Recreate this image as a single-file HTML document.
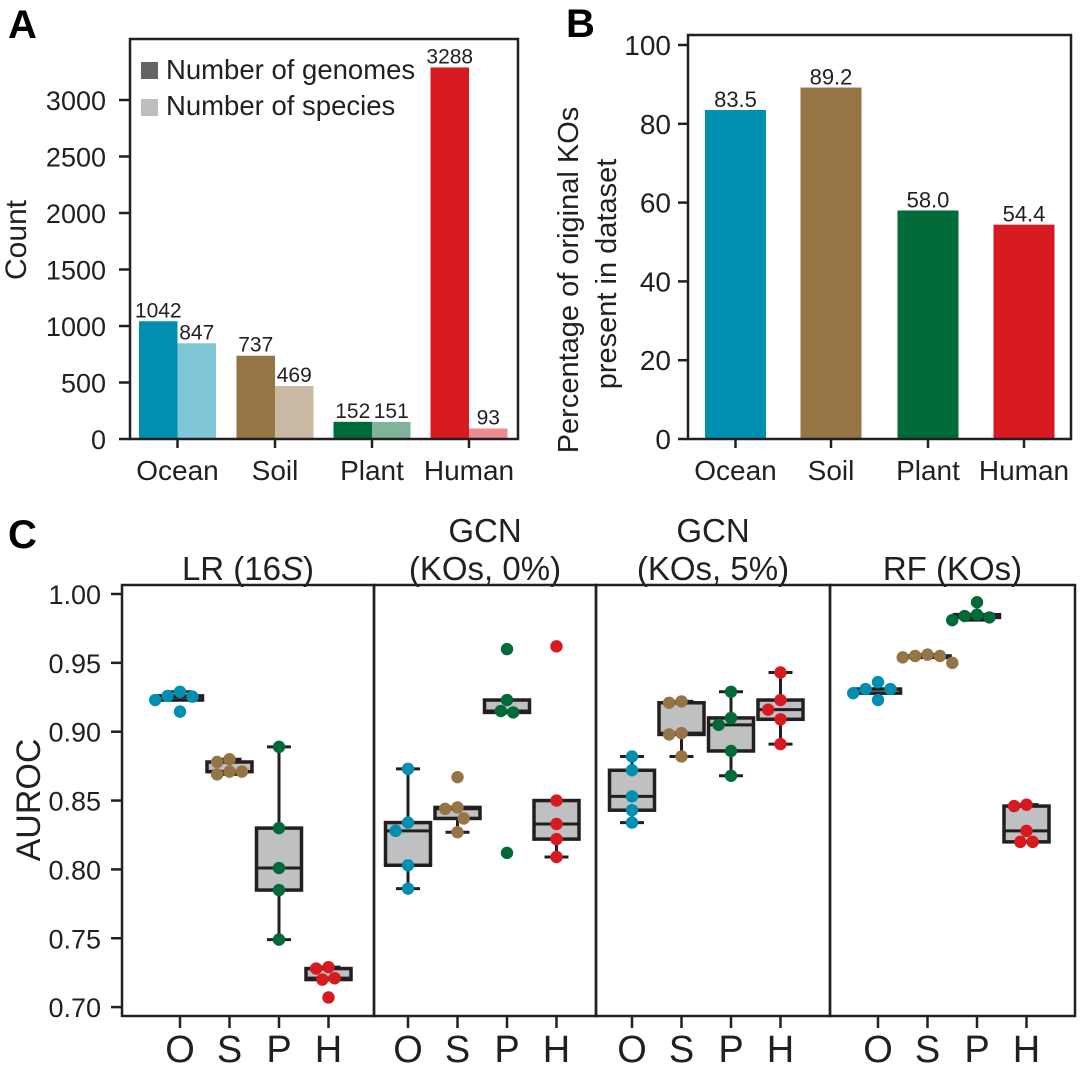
<!DOCTYPE html>
<html><head><meta charset="utf-8"><style>
html,body{margin:0;padding:0;background:#fff}
svg{display:block;font-family:"Liberation Sans",sans-serif}
</style></head><body>
<svg id="fig" width="1080" height="1065" viewBox="0 0 1080 1065">
<g id="A"></g>
<g id="B"></g>
<g id="C"></g>
</svg>
<script>
// ---------- data ----------
const envCategories = ["Ocean","Soil","Plant","Human"];
const genomeCounts = [1042,737,152,3288];
const speciesCounts = [847,469,151,93];
const countTicks = [0,500,1000,1500,2000,2500,3000];
const koPercent = [83.5,89.2,58.0,54.4];
const koPercentLabels = ["83.5","89.2","58.0","54.4"];
const pctTicks = [0,20,40,60,80,100];
const modelTitles = [["LR (16S)"],["GCN","(KOs, 0%)"],["GCN","(KOs, 5%)"],["RF (KOs)"]];
const envShort = ["O","S","P","H"];
const aurocTicks = [0.70,0.75,0.80,0.85,0.90,0.95,1.00];
const aucLR = [[0.929,0.9255,0.923,0.926,0.9146],[0.880,0.878,0.871,0.869,0.871],[0.889,0.830,0.801,0.785,0.749],[0.729,0.728,0.721,0.720,0.707]];
const aucGCN0 = [[0.873,0.834,0.828,0.803,0.786],[0.867,0.845,0.844,0.837,0.827],[0.960,0.923,0.915,0.914,0.812],[0.962,0.850,0.833,0.822,0.809]];
const aucGCN5 = [[0.882,0.872,0.853,0.843,0.834],[0.922,0.921,0.899,0.898,0.882],[0.929,0.910,0.905,0.886,0.868],[0.943,0.923,0.916,0.909,0.891]];
const aucRF = [[0.936,0.931,0.931,0.928,0.923],[0.956,0.954,0.950,0.955,0.955],[0.994,0.985,0.983,0.981,0.984],[0.847,0.846,0.828,0.820,0.820]];

const DARK="#231f20";
const COL=["#008fb0","#957446","#006b38","#d71920"];
const LIGHT=["#7fc7d7","#cab9a2","#80b49a","#ea8c90"];
const NS="http://www.w3.org/2000/svg";
function mk(parent,tag,attrs,text){const e=document.createElementNS(NS,tag);for(const k in attrs)e.setAttribute(k,attrs[k]);if(text!==undefined)e.textContent=text;parent.appendChild(e);return e;}

// ---------- Panel A ----------
(function(){
const g=document.getElementById('A');
const L=130,R=518,T=39,B=439;
const ys=v=>B-v*0.113;
const xc=[177.5,275,372,469];
const bw=38.5;
let t=mk(g,'text',{x:8,y:38,'font-size':40,'font-weight':'bold',fill:'#000'},'A');

for(let i=0;i<envCategories.length;i++){
 let r=mk(g,'rect',{x:xc[i]-bw,y:ys(genomeCounts[i]),width:bw,height:B-ys(genomeCounts[i]),fill:COL[i]});
 
 let r2=mk(g,'rect',{x:xc[i],y:ys(speciesCounts[i]),width:bw,height:B-ys(speciesCounts[i]),fill:LIGHT[i]});
 
 let l1=mk(g,'text',{x:xc[i]-bw/2,y:ys(genomeCounts[i])-4,'font-size':21,'text-anchor':'middle',fill:DARK},String(genomeCounts[i]));
 
 let l2=mk(g,'text',{x:xc[i]+bw/2,y:ys(speciesCounts[i])-4,'font-size':21,'text-anchor':'middle',fill:DARK},String(speciesCounts[i]));
 
 mk(g,'line',{x1:xc[i],x2:xc[i],y1:B,y2:B+9,stroke:DARK,'stroke-width':2.5});
 let xl=mk(g,'text',{x:xc[i],y:480,'font-size':28,'text-anchor':'middle',fill:DARK},envCategories[i]);
 
}
mk(g,'rect',{x:L,y:T,width:R-L,height:B-T,fill:'none',stroke:DARK,'stroke-width':2.5});
for(const v of countTicks){
 mk(g,'line',{x1:L-11,x2:L,y1:ys(v),y2:ys(v),stroke:DARK,'stroke-width':2.5});
 let tl=mk(g,'text',{x:L-24,y:ys(v)+10,'font-size':27,'text-anchor':'end',fill:DARK},String(v));
 
}
let yl=mk(g,'text',{x:0,y:0,'font-size':30,'text-anchor':'middle',fill:DARK,transform:'translate(26,240) rotate(-90)'},'Count');

const lg=mk(g,'g',{});
mk(lg,'rect',{x:141,y:62,width:17,height:17,fill:'#636466'});
mk(lg,'text',{x:166,y:79,'font-size':27.5,fill:DARK},'Number of genomes');
mk(lg,'rect',{x:141,y:99,width:17,height:17,fill:'#bcbec0'});
mk(lg,'text',{x:166,y:115,'font-size':27.5,fill:DARK},'Number of species');
})();

// ---------- Panel B ----------
(function(){
const g=document.getElementById('B');
const L=688,R=1071,T=35,B=439;
const ys=v=>B-v*3.94;
const xc=[735.5,831,928,1024];const bw=61;
let t=mk(g,'text',{x:566,y:37,'font-size':40,'font-weight':'bold',fill:'#000'},'B');

for(let i=0;i<envCategories.length;i++){
 let r=mk(g,'rect',{x:xc[i]-bw/2,y:ys(koPercent[i]),width:bw,height:B-ys(koPercent[i]),fill:COL[i]});
 
 let l=mk(g,'text',{x:xc[i],y:ys(koPercent[i])-3,'font-size':22,'text-anchor':'middle',fill:DARK},koPercentLabels[i]);
 
 mk(g,'line',{x1:xc[i],x2:xc[i],y1:B,y2:B+9,stroke:DARK,'stroke-width':2.5});
 let xl=mk(g,'text',{x:xc[i],y:480,'font-size':28,'text-anchor':'middle',fill:DARK},envCategories[i]);
 
}
mk(g,'rect',{x:L,y:T,width:R-L,height:B-T,fill:'none',stroke:DARK,'stroke-width':2.5});
for(const v of pctTicks){
 mk(g,'line',{x1:L-10,x2:L,y1:ys(v),y2:ys(v),stroke:DARK,'stroke-width':2.5});
 let tl=mk(g,'text',{x:L-17,y:ys(v)+10,'font-size':28,'text-anchor':'end',fill:DARK},String(v));
 
}
let yl=mk(g,'text',{x:0,y:0,'font-size':29,'text-anchor':'middle',fill:DARK,transform:'translate(578,280) rotate(-90)'},'Percentage of original KOs');

let yl2=mk(g,'text',{x:0,y:0,'font-size':29,'text-anchor':'middle',fill:DARK,transform:'translate(616,274) rotate(-90)'},'present in dataset');

})();

// ---------- Panel C ----------
(function(){
const g=document.getElementById('C');
const T=585,B=1016;
const ys=v=>594+(1-v)*1377;
const bounds=[[122,374],[374,596],[596,830],[830,1075]];
const firstX=[180,408,632,878];const step=49.5;
const data=[aucLR,aucGCN0,aucGCN5,aucRF];
let t=mk(g,'text',{x:8,y:548,'font-size':40,'font-weight':'bold',fill:'#000'},'C');

function q(s,p){const a=s.slice().sort((x,y)=>x-y);const h=(a.length-1)*p;const lo=Math.floor(h);return a[lo]+(a[Math.min(lo+1,a.length-1)]-a[lo])*(h-lo);}
for(let m=0;m<4;m++){
 const pg=mk(g,'g',{});
 const [L,R]=bounds[m];
 const lines=modelTitles[m];
 const cx=(L+R)/2;
 lines.forEach((ln,k)=>{
  const yy=580-(lines.length-1-k)*38;
  let tt;
  if(ln==="LR (16S)"){tt=mk(pg,'text',{x:cx,y:yy,'font-size':33,'text-anchor':'middle',fill:DARK});
   mk(tt,'tspan',{},'LR (16');mk(tt,'tspan',{'font-style':'italic'},'S');mk(tt,'tspan',{},')');}
  else tt=mk(pg,'text',{x:cx,y:yy,'font-size':33,'text-anchor':'middle',fill:DARK},ln);
  
 });
 for(let c=0;c<4;c++){
  const vals=data[m][c];const x=firstX[m]+c*step;
  const q1=q(vals,0.25),q2=q(vals,0.5),q3=q(vals,0.75),iqr=q3-q1;
  const inW=vals.filter(v=>v>=q1-1.5*iqr&&v<=q3+1.5*iqr);
  const wlo=Math.min(...inW),whi=Math.max(...inW);
  const bx=mk(pg,'g',{});
  const bw=45;
  mk(bx,'line',{x1:x,x2:x,y1:ys(whi),y2:ys(q3),stroke:DARK,'stroke-width':3});
  mk(bx,'line',{x1:x,x2:x,y1:ys(q1),y2:ys(wlo),stroke:DARK,'stroke-width':3});
  mk(bx,'line',{x1:x-12,x2:x+12,y1:ys(whi),y2:ys(whi),stroke:DARK,'stroke-width':3});
  mk(bx,'line',{x1:x-12,x2:x+12,y1:ys(wlo),y2:ys(wlo),stroke:DARK,'stroke-width':3});
  mk(bx,'rect',{x:x-bw/2,y:ys(q3),width:bw,height:Math.max(ys(q1)-ys(q3),1),fill:'#bfc0c2',stroke:DARK,'stroke-width':3.5});
  mk(bx,'line',{x1:x-bw/2,x2:x+bw/2,y1:ys(q2),y2:ys(q2),stroke:DARK,'stroke-width':3});
  const r=6.2,placed=[];
  const order=vals.map((v,i)=>i).sort((a,b)=>vals[b]-vals[a]);
  for(const i of order){
   const py=ys(vals[i]);let best=0;
   const cands=[0];for(let k=1;k<20;k++){cands.push(-k*r,k*r);}
   for(const dx of cands){if(placed.every(p=>Math.hypot(p[0]-dx,p[1]-py)>=2*r-0.5)){best=dx;break;}}
   placed.push([best,py]);
   const d=mk(pg,'circle',{cx:x+best,cy:py,r:r,fill:COL[c]});
   
  }
  mk(pg,'line',{x1:x,x2:x,y1:B,y2:B+12,stroke:DARK,'stroke-width':2.5});
  const xl=mk(pg,'text',{x:x,y:1062,'font-size':38,'text-anchor':'middle',fill:DARK},envShort[c]);
  
 }
 mk(pg,'rect',{x:L,y:T,width:R-L,height:B-T,fill:'none',stroke:DARK,'stroke-width':2.5});
}
for(const v of aurocTicks){
 mk(g,'line',{x1:111,x2:122,y1:ys(v),y2:ys(v),stroke:DARK,'stroke-width':2.5});
 const tl=mk(g,'text',{x:101,y:ys(v)+10,'font-size':27,'text-anchor':'end',fill:DARK},v.toFixed(2));
 
}
const yl=mk(g,'text',{x:0,y:0,'font-size':34,'text-anchor':'middle',fill:DARK,transform:'translate(40,800) rotate(-90)'},'AUROC');

})();
</script>
</body></html>
